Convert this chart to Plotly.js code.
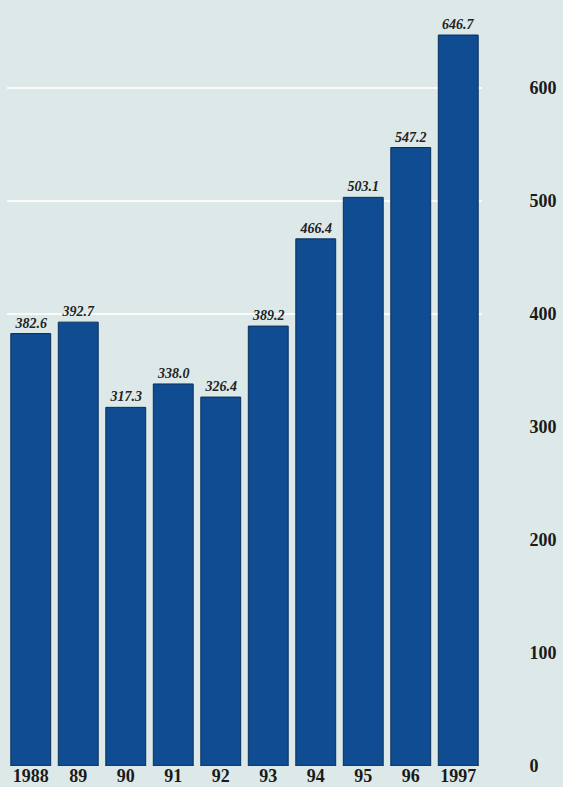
<!DOCTYPE html>
<html>
<head>
<meta charset="utf-8">
<script src="https://cdn.plot.ly/plotly-3.0.1.min.js"></script>
<style>
html,body{margin:0;padding:0;background:#dce9e8;}
#chart{width:563px;height:787px;}
</style>
</head>
<body>
<div id="chart"></div>
<script>
const years = ["1988", "89", "90", "91", "92", "93", "94", "95", "96", "1997"];
const values = [382.6, 392.7, 317.3, 338.0, 326.4, 389.2, 466.4, 503.1, 547.2, 646.7];
const yTicks = [0, 100, 200, 300, 400, 500, 600];
const gridTicks = [400, 500, 600];

const serif = "Liberation Serif, Times New Roman, serif";

const bars = {
  type: "bar",
  x: years,
  y: values,
  text: values.map(v => v.toFixed(1)),
  texttemplate: "%{text}",
  textposition: "outside",
  cliponaxis: false,
  textfont: {family: serif, size: 14, color: "#222", weight: "bold", style: "italic"},
  marker: {color: "#0f4c92", line: {color: "#0a2f5e", width: 1}},
  hoverinfo: "skip"
};

// empty helper trace so the grid-only overlay axis is drawn
const gridHelper = {
  type: "scatter",
  x: [],
  y: [],
  yaxis: "y2",
  hoverinfo: "skip",
  showlegend: false
};

const layout = {
  width: 563,
  height: 787,
  margin: {l: 7, r: 81, t: 20, b: 21},
  paper_bgcolor: "#dce9e8",
  plot_bgcolor: "rgba(0,0,0,0)",
  bargap: 0.16,
  showlegend: false,
  xaxis: {
    type: "category",
    showgrid: false,
    zeroline: false,
    showline: false,
    ticks: "",
    ticklabelstandoff: -3,
    tickfont: {family: serif, size: 18, color: "#1a1a1a", weight: "bold"}
  },
  yaxis: {
    side: "right",
    range: [0, 660],
    tickvals: yTicks,
    ticktext: yTicks.map(String),
    showgrid: false,
    zeroline: false,
    showline: false,
    ticks: "outside",
    ticklen: 43,
    tickcolor: "rgba(0,0,0,0)",
    tickfont: {family: serif, size: 18, color: "#1a1a1a", weight: "bold"}
  },
  yaxis2: {
    overlaying: "y",
    side: "left",
    range: [0, 660],
    tickvals: gridTicks,
    showticklabels: false,
    ticks: "",
    showgrid: true,
    gridcolor: "rgba(255,255,255,0.85)",
    gridwidth: 2,
    zeroline: false,
    showline: false,
    layer: "below traces"
  }
};

Plotly.newPlot("chart", [gridHelper, bars], layout, {displayModeBar: false, staticPlot: true});
</script>
</body>
</html>
